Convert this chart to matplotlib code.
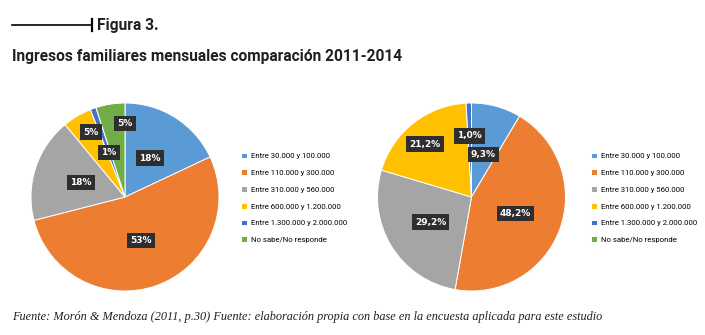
import numpy as np
import matplotlib.pyplot as plt
from matplotlib import font_manager

W, H = 705, 335
DPI = 100

# -----------------------------
# Data
# -----------------------------
categories = [
    "Entre 30.000 y 100.000",
    "Entre 110.000 y 300.000",
    "Entre 310.000 y 560.000",
    "Entre 600.000 y 1.200.000",
    "Entre 1.300.000 y 2.000.000",
    "No sabe/No responde",
]
share_2011 = [18, 53, 18, 5, 1, 5]
share_2014 = [9.3, 48.2, 29.2, 21.2, 1.0, 0.0]
labels_2011 = ["18%", "53%", "18%", "5%", "1%", "5%"]
labels_2014 = ["9,3%", "48,2%", "29,2%", "21,2%", "1,0%", ""]

colors = ["#5B9BD5", "#ED7D31", "#A5A5A5", "#FFC000", "#4472C4", "#70AD47"]

# label placement (fraction of radius, extra rotation in degrees)
lab_r_2011 = [0.49, 0.49, 0.49, 0.78, 0.50, 0.78]
lab_rot_2011 = [0, 0, 0, -3, 0, -9]
lab_r_2014 = [0.47, 0.50, 0.51, 0.75, 0.65, 0.0]
lab_rot_2014 = [0, 0, 0, 3, 0, 0]

installed = {f.name for f in font_manager.fontManager.ttflist}
narrow = "Liberation Sans Narrow" if "Liberation Sans Narrow" in installed else "Roboto"


def px(x, y):
    return x / W, 1 - y / H


fig = plt.figure(figsize=(W / DPI, H / DPI), dpi=DPI)
fig.patch.set_facecolor("white")


def draw_pie(cx, cy, r, values, texts, radii, rots, legend_x):
    ax = fig.add_axes([(cx - r) / W, (H - cy - r) / H, 2 * r / W, 2 * r / H])
    wedges, _ = ax.pie(values, colors=colors, startangle=90, counterclock=False,
                       wedgeprops=dict(edgecolor="white", linewidth=0.7))
    ax.set_xlim(-1, 1)
    ax.set_ylim(-1, 1)
    ax.axis("off")
    for w, t, rr, rot in zip(wedges, texts, radii, rots):
        if not t:
            continue
        ang = np.deg2rad((w.theta1 + w.theta2) / 2 + rot)
        ax.text(rr * np.cos(ang), rr * np.sin(ang), t, ha="center", va="center",
                color="white", fontsize=6.5, fontweight="bold",
                bbox=dict(boxstyle="square,pad=0.35", fc="#2e2e2e", ec="none"))
    fig.legend(wedges, categories, loc="upper left",
               bbox_to_anchor=px(legend_x, 152.7), frameon=False,
               prop=dict(family=narrow, size=5.6),
               handlelength=0.75, handleheight=0.75, handletextpad=0.5,
               labelspacing=1.31, borderpad=0, borderaxespad=0)
    return ax


draw_pie(125, 197, 94, share_2011, labels_2011, lab_r_2011, lab_rot_2011, 241)
draw_pie(471.5, 197, 94, share_2014, labels_2014, lab_r_2014, lab_rot_2014, 591)

# header
fig.add_artist(plt.Line2D([12 / W, 92 / W], [1 - 24.5 / H] * 2, color="black", lw=1.2))
fig.add_artist(plt.Line2D([92 / W, 92 / W], [1 - 19 / H, 1 - 31 / H], color="black", lw=1.6))
fig.text(*px(97, 25.5), "Figura 3.", ha="left", va="center",
         family=narrow, fontweight="bold", fontsize=11.2, color="#231f20")
fig.text(*px(12, 57), "Ingresos familiares mensuales comparación 2011-2014",
         ha="left", va="center", family=narrow, fontweight="bold",
         fontsize=11.2, color="#231f20")

fig.text(*px(12, 317),
         "Fuente: Morón & Mendoza (2011, p.30) Fuente: elaboración propia con base "
         "en la encuesta aplicada para este estudio",
         ha="left", va="center", family="Liberation Serif", style="italic",
         fontsize=8.8, color="#231f20")

fig.savefig("out.png", dpi=DPI)
